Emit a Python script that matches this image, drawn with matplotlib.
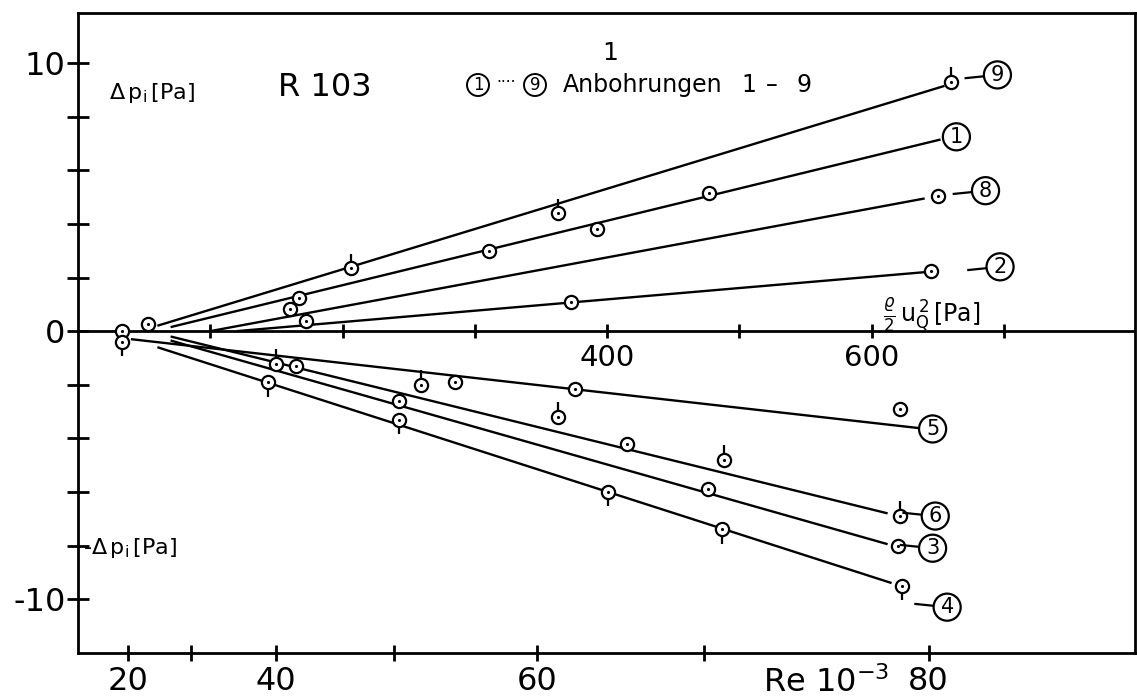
import matplotlib
matplotlib.use('Agg')
import matplotlib.pyplot as plt
from matplotlib.transforms import offset_copy

W, H = 1137, 698

# ---------------- data (x: rho/2 u^2 in Pa, y: delta p_i in Pa) ----------------
s9_x = [206, 363, 660]
s9_y = [2.35, 4.4, 9.3]
s9_flag = ['up', 'up', 'up']

s1_x = [167, 311, 392, 477]
s1_y = [1.23, 3.0, 3.8, 5.15]
s1_flag = [None, None, None, None]

s8_x = [160, 650]
s8_y = [0.84, 5.05]
s8_flag = [None, None]

s2_x = [172, 373, 645]
s2_y = [0.37, 1.1, 2.25]
s2_flag = [None, None, None]

s5_x = [285, 376, 621]
s5_y = [-1.9, -2.17, -2.9]
s5_flag = [None, None, None]

s6_x = [150, 259, 363, 488, 621]
s6_y = [-1.22, -2.0, -3.2, -4.8, -6.9]
s6_flag = ['up', 'up', 'up', 'up', 'up']

s3_x = [165, 243, 415, 476, 620]
s3_y = [-1.3, -2.6, -4.2, -5.9, -8.0]
s3_flag = [None, None, None, None, None]

s4_x = [144, 243, 401, 487, 623]
s4_y = [-1.9, -3.3, -6.0, -7.4, -9.5]
s4_flag = ['down', 'down', 'down', 'down', 'down']

s0_x = [33, 33, 53]
s0_y = [0.0, -0.4, 0.26]
s0_flag = [None, 'down', None]

# fitted straight lines: start and end points
fit_9 = [(60, 0.2), (655, 9.15)]
fit_1 = [(70, 0.15), (652, 7.15)]
fit_8 = [(100, 0.0), (640, 4.95)]
fit_2 = [(120, 0.0), (640, 2.2)]
fit_5 = [(40, -0.3), (636, -3.62)]
fit_6 = [(70, -0.2), (612, -6.8)]
fit_3 = [(70, -0.35), (612, -7.95)]
fit_4 = [(60, -0.6), (615, -9.4)]

# series label positions; 'dash' marks labels joined to their last point by a short dash
lab_names = ['9', '1', '8', '2', '5', '6', '3', '4']
lab_x = [695, 664, 686, 697, 646, 648, 646, 657]
lab_y = [9.56, 7.25, 5.24, 2.4, -3.65, -6.9, -8.1, -10.3]
lab_dash = [True, False, True, True, False, True, True, True]

# axis scales
y_ticks = [-10, -8, -6, -4, -2, 0, 2, 4, 6, 8, 10]
y_ticklabels = ['-10', '', '', '', '', '0', '', '', '', '', '10']
pa_ticks = [100, 200, 300, 400, 500, 600, 700]
pa_labels = {400: '400', 600: '600'}
re_tick_pos = [37.8, 85.4, 149.7, 238.8, 347, 473, 643]   # Re 20..80 on the Pa scale
re_labels = ['20', '', '40', '', '60', '', '80']

series = [
    (s9_x, s9_y, s9_flag), (s1_x, s1_y, s1_flag), (s8_x, s8_y, s8_flag),
    (s2_x, s2_y, s2_flag), (s5_x, s5_y, s5_flag), (s6_x, s6_y, s6_flag),
    (s3_x, s3_y, s3_flag), (s4_x, s4_y, s4_flag), (s0_x, s0_y, s0_flag),
]
fits = [fit_9, fit_1, fit_8, fit_2, fit_5, fit_6, fit_3, fit_4]

# ---------------- figure ----------------
plt.rcParams['font.family'] = ['DejaVu Sans']
fig = plt.figure(figsize=(W / 100, H / 100), dpi=100)
ax = fig.add_axes([78 / W, 1 - 653 / H, (1135 - 78) / W, (653 - 13) / H])
ax.set_xlim(0, 799)
ax.set_ylim(-12.01, 11.87)

for sp in ax.spines.values():
    sp.set_linewidth(2.0)
    sp.set_color('black')

LW = 1.7
for (p0, p1) in fits:
    ax.plot([p0[0], p1[0]], [p0[1], p1[1]], color='black', lw=LW,
            solid_capstyle='butt', zorder=2)

ax.axhline(0, color='black', lw=2.0, zorder=2)
ax.plot(pa_ticks, [0] * len(pa_ticks), ls='none', marker='|', ms=10,
        mew=2.0, color='black', zorder=3)
for v, t in pa_labels.items():
    ax.annotate(t, (v, 0), xytext=(0, -9), textcoords='offset points',
                ha='center', va='top', fontsize=21)

up_tr = offset_copy(ax.transData, fig=fig, x=0, y=7.6, units='points')
dn_tr = offset_copy(ax.transData, fig=fig, x=0, y=-7.6, units='points')
for xs, ys, fl in series:
    ax.plot(xs, ys, ls='none', marker='o', ms=9.5, mfc='white', mec='black',
            mew=1.6, zorder=4)
    ax.plot(xs, ys, ls='none', marker='.', ms=2.5, color='black', zorder=5)
    xu = [x for x, f in zip(xs, fl) if f == 'up']
    yu = [y for y, f in zip(ys, fl) if f == 'up']
    xd = [x for x, f in zip(xs, fl) if f == 'down']
    yd = [y for y, f in zip(ys, fl) if f == 'down']
    if xu:
        ax.plot(xu, yu, ls='none', marker='|', ms=6, mew=1.6, color='black',
                transform=up_tr, zorder=4)
    if xd:
        ax.plot(xd, yd, ls='none', marker='|', ms=6, mew=1.6, color='black',
                transform=dn_tr, zorder=4)

# connectors and circled series labels
for name, lx, ly, dash in zip(lab_names, lab_x, lab_y, lab_dash):
    if dash:
        ax.plot([lx - 24, lx], [ly - 0.12 if ly > 0 else ly + 0.12, ly],
                color='black', lw=1.6, zorder=5)
    ax.text(lx, ly, name, ha='center', va='center', fontsize=15, zorder=6,
            bbox=dict(boxstyle='circle,pad=0.17', fc='white', ec='black', lw=1.6))

# ticks
ax.set_yticks(y_ticks)
ax.set_yticklabels(y_ticklabels)
ax.tick_params(axis='y', direction='inout', length=16, width=2.0, pad=1,
               labelsize=23)
ax.set_xticks(re_tick_pos)
ax.set_xticklabels(re_labels)
ax.tick_params(axis='x', direction='inout', length=11, width=2.0, pad=4,
               labelsize=23)


def ftext(x, y, s, **kw):
    fig.text(x / W, 1 - y / H, s, **kw)


ftext(826, 683, r'Re 10$^{-3}$', ha='center', va='center', fontsize=23)
ftext(152, 93, r'$\Delta\,\mathrm{p}_{\mathrm{i}}\,[\mathrm{Pa}]$', ha='center',
      va='center', fontsize=16)
ftext(130, 548, r'-$\Delta\,\mathrm{p}_{\mathrm{i}}\,[\mathrm{Pa}]$', ha='center',
      va='center', fontsize=16)
ftext(325, 88, 'R 103', ha='center', va='center', fontsize=23)
ftext(610, 53, '1', ha='center', va='center', fontsize=18)
ftext(478, 85, '1', ha='center', va='center', fontsize=12,
      bbox=dict(boxstyle='circle,pad=0.12', fc='white', ec='black', lw=1.4))
ftext(506, 82, '····', ha='center', va='center', fontsize=11)
ftext(535, 85, '9', ha='center', va='center', fontsize=12,
      bbox=dict(boxstyle='circle,pad=0.12', fc='white', ec='black', lw=1.4))
ftext(563, 85, 'Anbohrungen', ha='left', va='center', fontsize=17)
ftext(749, 85, '1', ha='center', va='center', fontsize=17)
ftext(772, 85, '–', ha='center', va='center', fontsize=17)
ftext(804, 85, '9', ha='center', va='center', fontsize=17)
ftext(932, 315, r'$\frac{\varrho}{2}\,\mathrm{u}_{\mathrm{Q}}^{\,2}\,[\mathrm{Pa}]$',
      ha='center', va='center', fontsize=17)

fig.savefig('out.png', dpi=100, facecolor='white')
